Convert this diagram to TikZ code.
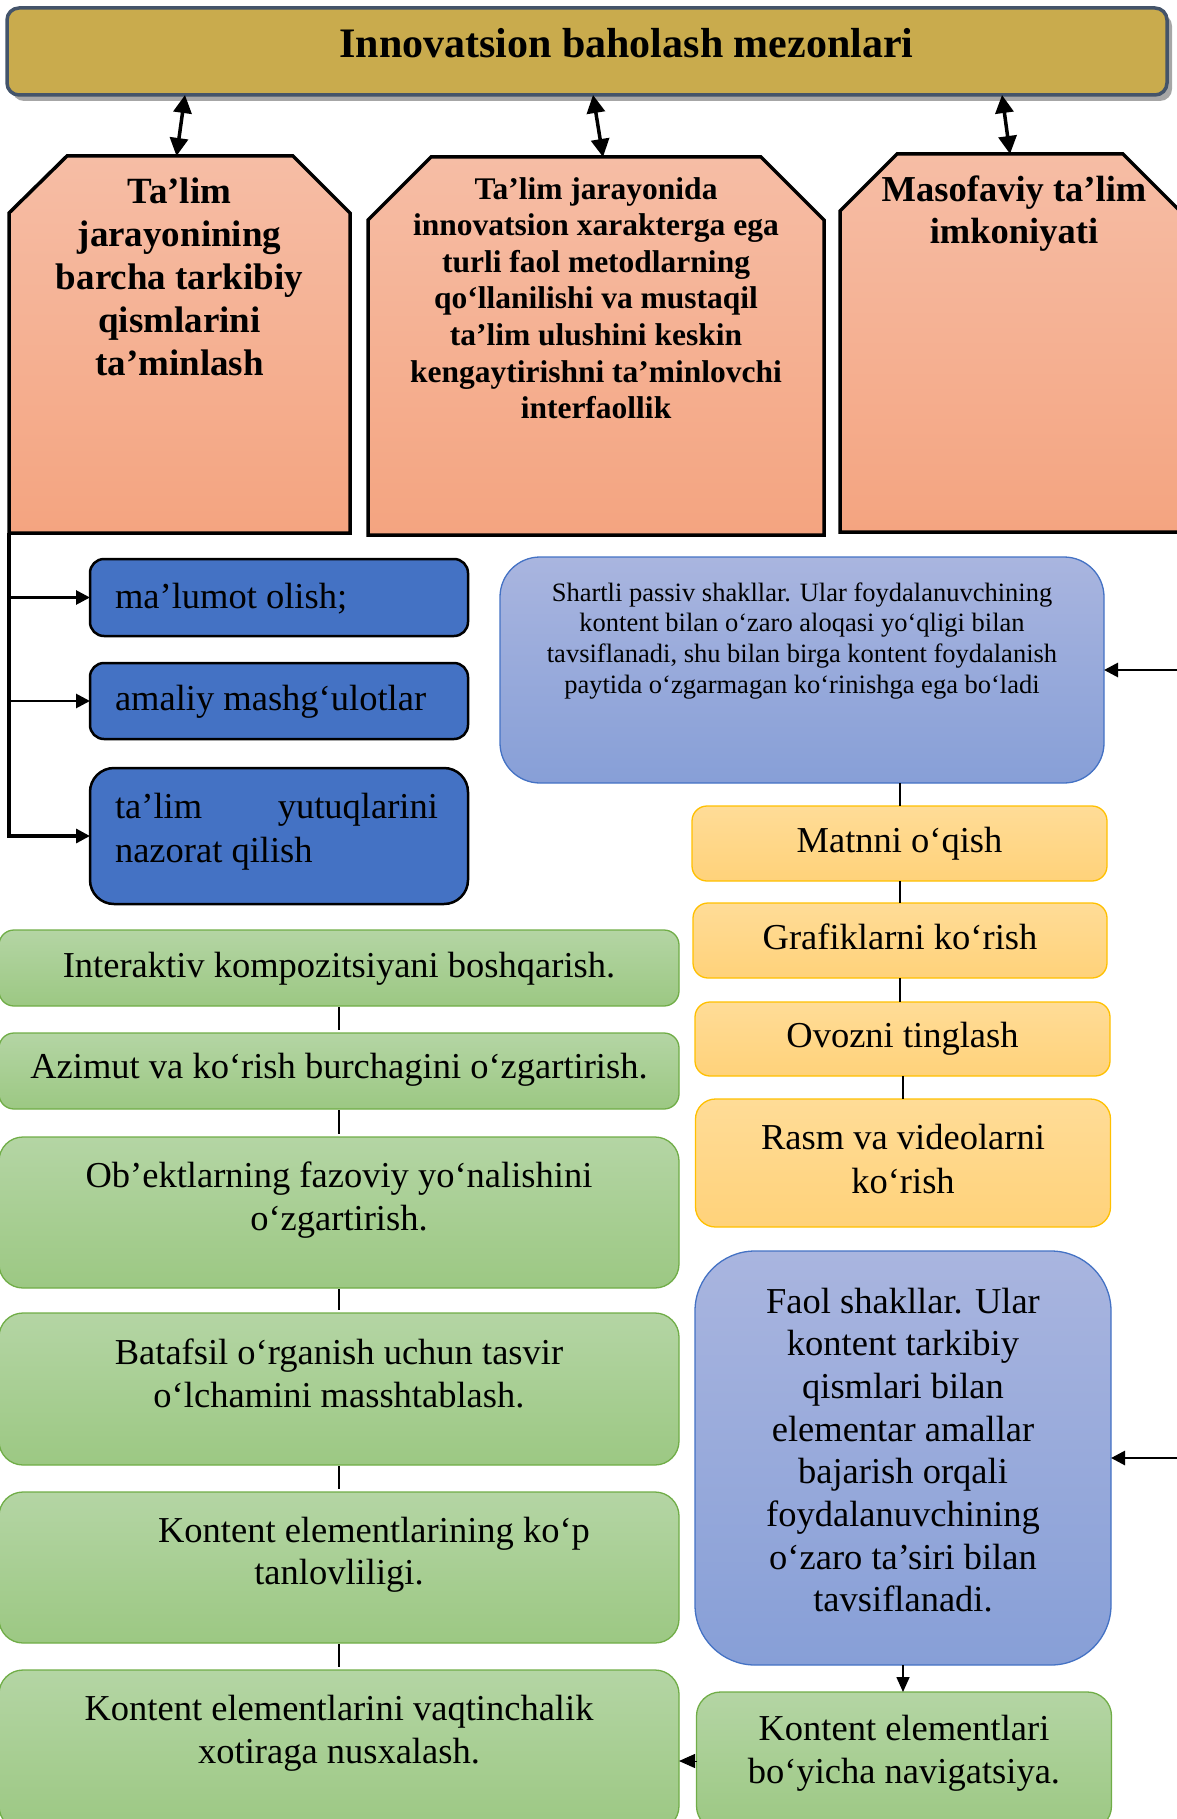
\documentclass[tikz,border=0pt]{standalone}
\usepackage{fontspec}
\setmainfont{Liberation Serif}
\usetikzlibrary{arrows.meta,calc,shadows}

\definecolor{gold}{RGB}{201,171,77}
\definecolor{slate}{RGB}{68,84,106}
\definecolor{ortop}{RGB}{246,189,165}
\definecolor{orbot}{RGB}{244,164,128}
\definecolor{dblue}{RGB}{68,114,196}
\definecolor{lbtop}{RGB}{169,181,223}
\definecolor{lbbot}{RGB}{135,159,215}
\definecolor{ytop}{RGB}{255,220,151}
\definecolor{ybot}{RGB}{255,210,122}
\definecolor{yedge}{RGB}{255,192,0}
\definecolor{gtop}{RGB}{180,213,164}
\definecolor{gbot}{RGB}{156,200,131}
\definecolor{gedge}{RGB}{112,173,71}

% #1 width, #2 height, #3 first baseline from top, #4 font, #5 text
\newcommand\bt[5]{\parbox[c][#2][t]{#1}{#4\centering\vspace*{\dimexpr#3-0.75em\relax}\rule{0pt}{0.75em}#5\par}}
\newcommand\btl[5]{\parbox[c][#2][t]{#1}{#4\leftskip=25pt\rightskip=30pt plus 1fil\parindent=0pt\vspace*{\dimexpr#3-0.75em\relax}\rule{0pt}{0.75em}#5\par}}

\tikzset{
  every node/.style={inner sep=0pt, outer sep=0pt},
  banner/.style={rounded corners=12pt, draw=slate, line width=3.5pt, fill=gold,
    drop shadow={shadow xshift=5pt, shadow yshift=-6pt, fill=black!35, opacity=1}},
  orbox/.style={draw=black, line width=3.5pt, top color=ortop, bottom color=orbot},
  tbox/.style={draw=none},
  dbbox/.style={rounded corners=14pt, draw=black, line width=2.5pt, fill=dblue},
  lbbox/.style={draw=dblue, line width=1.3pt, top color=lbtop, bottom color=lbbot},
  ybox/.style={rounded corners=15pt, draw=yedge, line width=1.3pt, top color=ytop, bottom color=ybot},
  gbox/.style={rounded corners=15pt, draw=gedge, line width=1.3pt, top color=gtop, bottom color=gbot},
  dbl/.style={line width=3.5pt, {Triangle[length=18pt,width=18pt]}-{Triangle[length=18pt,width=18pt]}},
  arr/.style={line width=2.8pt, -{Triangle[length=14pt,width=14pt]}},
  link/.style={line width=2pt},
}

\begin{document}
\begin{tikzpicture}[x=1pt,y=-1pt]
\useasboundingbox (0,0) rectangle (1177,1819);

% header
\node[banner, minimum width=1160pt, minimum height=87pt] (banner) at (587,51.5)
  {\bt{1160pt}{87pt}{50pt}{\bfseries\fontsize{42}{48}\selectfont}{\hspace*{79pt}Innovatsion baholash mezonlari}};

% chamfered boxes
\path[orbox] (9,533) -- (9,213) -- (67,156) -- (293,156) -- (350,213) -- (350,533) -- cycle;
\path[orbox] (368,535) -- (368,220) -- (431,157) -- (761,157) -- (824,220) -- (824,535) -- cycle;
\path[orbox] (840,532) -- (840,211) -- (897,154) -- (1123,154) -- (1182,213) -- (1182,532) -- cycle;

\node[tbox] (b1) at (179.5,344.5)
  {\bt{341pt}{377pt}{47pt}{\bfseries\fontsize{37}{43}\selectfont}{Ta’lim\\jarayonining\\barcha tarkibiy\\qismlarini\\ta’minlash}};
\node[tbox] (b2) at (596,346)
  {\bt{456pt}{378pt}{42pt}{\bfseries\fontsize{31.5}{36.6}\selectfont}{Ta’lim jarayonida\\innovatsion xarakterga ega\\turli faol metodlarning\\qo‘llanilishi va mustaqil\\ta’lim ulushini keskin\\kengaytirishni ta’minlovchi\\interfaollik}};
\node[tbox] (b3) at (1010,343)
  {\bt{340pt}{378pt}{47pt}{\bfseries\fontsize{36.5}{42}\selectfont}{\hspace*{8pt}Masofaviy ta’lim\\\hspace*{8pt}imkoniyati}};

\draw[dbl] ($(banner.south west)+(178,0)$) -- ($(b1.north)+(-3,0)$);
\draw[dbl] ($(banner.south west)+(586,0)$) -- ($(b2.north)+(7,0)$);
\draw[dbl] ($(banner.south west)+(995,0)$) -- (b3.north);

% dark blue boxes
\node[dbbox, minimum width=378pt, minimum height=77pt] (Ba) at (279,597.5)
  {\btl{378pt}{77pt}{49pt}{\fontsize{36.5}{43}\selectfont}{ma’lumot olish;}};
\node[dbbox, minimum width=378pt, minimum height=76pt] (Bb) at (279,701)
  {\btl{378pt}{76pt}{47pt}{\fontsize{36.5}{43}\selectfont}{amaliy mashg‘ulotlar}};
\node[dbbox, rounded corners=24pt, minimum width=378pt, minimum height=136pt] (Bc) at (279,836)
  {\btl{378pt}{136pt}{50pt}{\fontsize{36.5}{44}\selectfont}{ta’lim\hfill yutuqlarini\\nazorat qilish}};

\draw[arr, line width=3.2pt] (b1.south west) |- (Bc.west);
\draw[arr] (b1.south west |- Ba.west) -- (Ba.west);
\draw[arr] (b1.south west |- Bb.west) -- (Bb.west);

% right column
\node[lbbox, rounded corners=40pt, minimum width=604pt, minimum height=226pt] (Sh) at (802,670)
  {\bt{604pt}{226pt}{44pt}{\fontsize{26.5}{30.7}\selectfont}{Shartli passiv shakllar. Ular foydalanuvchining\\kontent bilan o‘zaro aloqasi yo‘qligi bilan\\tavsiflanadi, shu bilan birga kontent foydalanish\\paytida o‘zgarmagan ko‘rinishga ega bo‘ladi}};

\node[ybox, minimum width=415pt, minimum height=75pt] (Y1) at (899.5,843.5)
  {\bt{415pt}{75pt}{46pt}{\fontsize{36.5}{43}\selectfont}{Matnni o‘qish}};
\node[ybox, minimum width=414pt, minimum height=75pt] (Y2) at (900,940.5)
  {\bt{414pt}{75pt}{46pt}{\fontsize{36.5}{43}\selectfont}{Grafiklarni ko‘rish}};
\node[ybox, minimum width=415pt, minimum height=74pt] (Y3) at (902.5,1039)
  {\bt{415pt}{74pt}{45pt}{\fontsize{36.5}{43}\selectfont}{Ovozni tinglash}};
\node[ybox, rounded corners=20pt, minimum width=415pt, minimum height=128pt] (Y4) at (903,1163)
  {\bt{415pt}{128pt}{50pt}{\fontsize{36.5}{44}\selectfont}{Rasm va videolarni\\ko‘rish}};

\node[lbbox, rounded corners=60pt, minimum width=416pt, minimum height=414pt] (Fa) at (903,1458)
  {\bt{416pt}{414pt}{62pt}{\fontsize{36.5}{42.7}\selectfont}{Faol shakllar. Ular\\kontent tarkibiy\\qismlari bilan\\elementar amallar\\bajarish orqali\\foydalanuvchining\\o‘zaro ta’siri bilan\\tavsiflanadi.}};

\node[gbox, rounded corners=24pt, minimum width=415pt, minimum height=138pt] (R) at (904,1761)
  {\bt{415pt}{138pt}{48pt}{\fontsize{36.5}{43}\selectfont}{Kontent elementlari\\bo‘yicha navigatsiya.}};

\coordinate (inSh) at (1190,670);
\coordinate (inFa) at (1190,1458);
\draw[arr] (inSh) -- (Sh.east);
\draw[arr] (inFa) -- (Fa.east);

\draw[link] (Sh.south -| Y1.north) -- (Y1.north);
\draw[link] (Y1.south) -- (Y1.south |- Y2.north);
\draw[link] (Y2.south) -- (Y2.south |- Y3.north);
\draw[link] (Y3.south) -- (Y3.south |- Y4.north);
\draw[line width=1.6pt, -{Triangle[length=15pt,width=13pt]}] (Fa.south) -- (Fa.south |- R.north);

% green column
\node[gbox, minimum width=680pt, minimum height=76pt] (G1) at (339,968)
  {\bt{680pt}{76pt}{47pt}{\fontsize{36.5}{43}\selectfont}{Interaktiv kompozitsiyani boshqarish.}};
\node[gbox, minimum width=680pt, minimum height=76pt] (G2) at (339,1071)
  {\bt{680pt}{76pt}{45pt}{\fontsize{36.5}{43}\selectfont}{Azimut va ko‘rish burchagini o‘zgartirish.}};
\node[gbox, rounded corners=24pt, minimum width=680pt, minimum height=151pt] (G3) at (339,1212.5)
  {\bt{680pt}{151pt}{50pt}{\fontsize{36.5}{43}\selectfont}{Ob’ektlarning fazoviy yo‘nalishini\\o‘zgartirish.}};
\node[gbox, rounded corners=24pt, minimum width=680pt, minimum height=152pt] (G4) at (339,1389)
  {\bt{680pt}{152pt}{51pt}{\fontsize{36.5}{43}\selectfont}{Batafsil o‘rganish uchun tasvir\\o‘lchamini masshtablash.}};
\node[gbox, rounded corners=24pt, minimum width=680pt, minimum height=151pt] (G5) at (339,1567.5)
  {\bt{680pt}{151pt}{50pt}{\fontsize{36.5}{42}\selectfont}{\hspace*{70pt}Kontent elementlarining ko‘p\\tanlovliligi.}};
\node[gbox, rounded corners=24pt, minimum width=680pt, minimum height=160pt] (G6) at (339,1750)
  {\bt{680pt}{160pt}{50pt}{\fontsize{36.5}{43}\selectfont}{Kontent elementlarini vaqtinchalik\\xotiraga nusxalash.}};

\draw[link, shorten <=1pt, shorten >=3pt] (G1.south) -- (G2.north);
\draw[link, shorten <=1pt, shorten >=3pt] (G2.south) -- (G3.north);
\draw[link, shorten <=1pt, shorten >=3pt] (G3.south) -- (G4.north);
\draw[link, shorten <=1pt, shorten >=3pt] (G4.south) -- (G5.north);
\draw[link, shorten <=1pt, shorten >=3pt] (G5.south) -- (G6.north);

\draw[line width=1pt, -{Triangle[length=16pt,width=14pt]}] (R.west) -- (R.west -| G6.east);
\end{tikzpicture}
\end{document}
